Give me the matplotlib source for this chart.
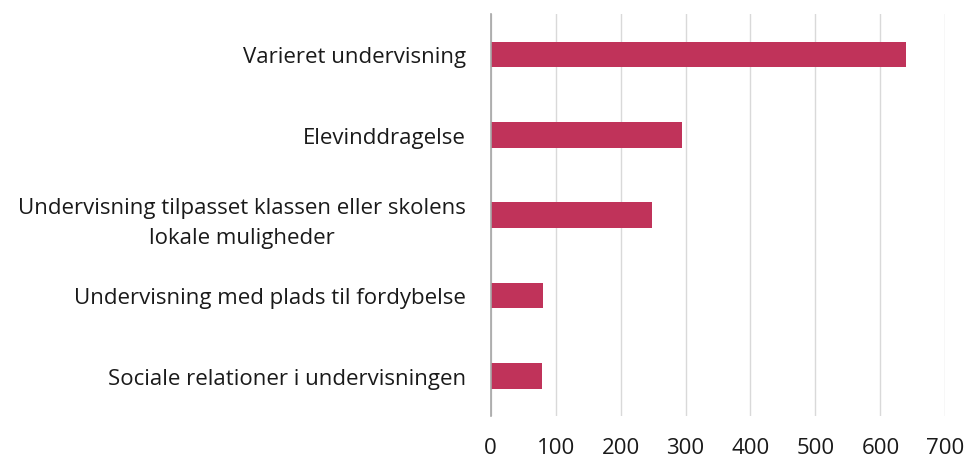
import matplotlib.pyplot as plt

categories = [
    "Varieret undervisning",
    "Elevinddragelse",
    "Undervisning tilpasset klassen eller skolens\nlokale muligheder",
    "Undervisning med plads til fordybelse",
    "Sociale relationer i undervisningen",
]
values = [639, 294, 249, 81, 79]
x_ticks = [0, 100, 200, 300, 400, 500, 600, 700]

plt.rcParams["font.family"] = ["Open Sans", "DejaVu Sans"]

fig = plt.figure(figsize=(9.66, 4.6), dpi=100, facecolor="white")
ax = fig.add_axes([0.508, 0.0935, 0.4706, 0.8732])

pos = list(range(len(categories)))
ax.barh(pos, values, height=0.32, color="#C0335A", zorder=3)

ax.set_ylim(len(categories) - 0.5, -0.5)
ax.set_xlim(0, 700)
ax.set_xticks(x_ticks)
ax.set_yticks(pos)
ax.set_yticklabels(categories, fontsize=16, color="#1a1a1a", linespacing=1.6)
ax.tick_params(axis="x", labelsize=16, labelcolor="#1a1a1a", length=0, pad=15)
ax.tick_params(axis="y", length=0, pad=18)
for lbl in ax.get_yticklabels():
    lbl.set_horizontalalignment("right")
    lbl.set_multialignment("center")

ax.grid(axis="x", color="#d9d9d9", linewidth=1, zorder=0)
for side in ["top", "right", "bottom"]:
    ax.spines[side].set_visible(False)
ax.spines["left"].set_color("#a6a6a6")
ax.spines["left"].set_linewidth(1.2)
ax.spines["left"].set_zorder(4)

fig.savefig("out.png", dpi=100, facecolor="white")
